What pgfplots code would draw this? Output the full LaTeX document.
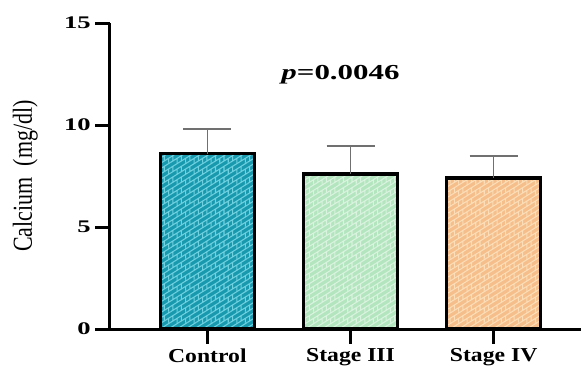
\documentclass[border=0pt]{standalone}
\usepackage{fontspec}
\setmainfont{Liberation Serif}
\newfontfamily\tickf[FakeStretch=1.5]{Liberation Serif}
\newfontfamily\xlabf[FakeStretch=1.2]{Liberation Serif}
\newfontfamily\ylabf[FakeStretch=0.8]{Liberation Serif}
\newfontfamily\pf[FakeStretch=1.45]{Liberation Serif}
\usepackage{pgfplots}
\pgfplotsset{compat=1.18}
\usetikzlibrary{patterns}
\definecolor{cA}{HTML}{1899AE}
\definecolor{cAl}{HTML}{6FD0E0}
\definecolor{cB}{HTML}{B3E5BE}
\definecolor{cBl}{HTML}{D9F3DF}
\definecolor{cC}{HTML}{F5BE8A}
\definecolor{cCl}{HTML}{FBDDB8}
\definecolor{ebar}{HTML}{707070}
\pgfdeclarepatternformonly{mybricks}{\pgfqpoint{-0.5pt}{-0.5pt}}{\pgfqpoint{7pt}{8.5pt}}{\pgfqpoint{6.4pt}{8pt}}{%
  \pgfsetlinewidth{0.8pt}%
  \pgfpathmoveto{\pgfqpoint{0pt}{0pt}}\pgfpathlineto{\pgfqpoint{6.4pt}{4pt}}%
  \pgfpathmoveto{\pgfqpoint{0pt}{4pt}}\pgfpathlineto{\pgfqpoint{6.4pt}{8pt}}%
  \pgfpathmoveto{\pgfqpoint{1.6pt}{1pt}}\pgfpathlineto{\pgfqpoint{1.6pt}{5pt}}%
  \pgfpathmoveto{\pgfqpoint{4.8pt}{7pt}}\pgfpathlineto{\pgfqpoint{4.8pt}{8pt}}%
  \pgfpathmoveto{\pgfqpoint{4.8pt}{0pt}}\pgfpathlineto{\pgfqpoint{4.8pt}{3pt}}%
  \pgfusepath{stroke}}
\begin{document}
\begin{tikzpicture}
\useasboundingbox (-82.5pt,-27pt) rectangle (353.25pt,246.75pt);
\begin{axis}[
  at={(0,0)}, anchor=south west,
  scale only axis, width=353.25pt, height=229.5pt,
  xmin=-0.68, xmax=2.61, ymin=0, ymax=15,
  axis x line*=bottom, axis y line*=left,
  axis line style={line width=2.25pt, black},
  xtick={0,1,2}, xticklabels={Control,Stage III,Stage IV},
  ytick={0,5,10,15}, yticklabels={0,5,10,15},
  tick align=outside, major tick length=11pt,
  tick style={line width=2.25pt, black},
  xticklabel style={font=\xlabf\fontsize{14.8}{16}\selectfont\bfseries},
  yticklabel style={font=\tickf\fontsize{13.3}{14}\selectfont\bfseries},
  ylabel={Calcium\ \ (mg/dl)},
  every axis y label/.style={at={(axis description cs:-0.18,0.5)}, rotate=90, anchor=center, font=\ylabf\fontsize{20.6}{22}\selectfont},
  ybar, bar width=70.5pt, bar shift=0pt,
  clip=false,
]
\addplot[preaction={fill=cA}, pattern=mybricks, pattern color=cAl, draw=black, line width=2.4pt] coordinates {(0,8.6)};
\addplot[preaction={fill=cB}, pattern=mybricks, pattern color=cBl, draw=black, line width=2.4pt] coordinates {(1,7.6)};
\addplot[preaction={fill=cC}, pattern=mybricks, pattern color=cCl, draw=black, line width=2.4pt] coordinates {(2,7.4)};
\addplot[draw=none, fill=none, forget plot,
  error bars/.cd, y dir=plus, y explicit,
  error bar style={draw=ebar, line width=0.9pt, solid},
  error mark options={rotate=90, mark size=18pt, line width=0.9pt, draw=ebar}]
  coordinates {(0,8.6) +- (0,1.2) (1,7.6) +- (0,1.37) (2,7.4) +- (0,1.08)};
\node[font=\pf\fontsize{16}{18}\selectfont\bfseries] at (axis cs:0.93,12.45) {\textit{p}=0.0046};
\end{axis}
\end{tikzpicture}
\end{document}
